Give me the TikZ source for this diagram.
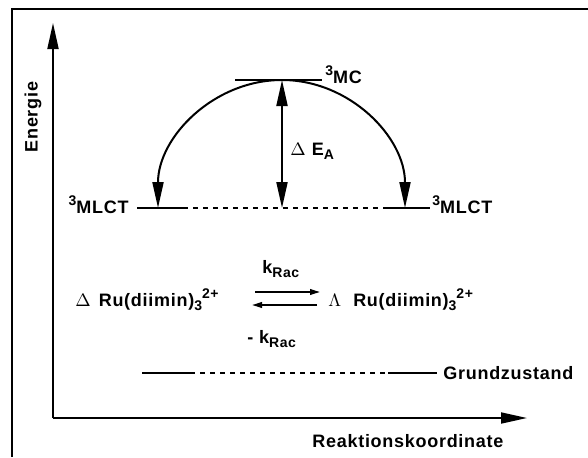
\documentclass[tikz,border=0pt]{standalone}
\usepackage{fontspec}
\setmainfont{Liberation Sans}[LetterSpace=4]
\usepackage{tikz}
\usetikzlibrary{arrows.meta}

% small raised / lowered text
\newcommand{\lsup}[1]{\raisebox{0.75ex}{\fontsize{7}{8}\selectfont #1}}
\newcommand{\lsub}[1]{\raisebox{-0.45ex}{\fontsize{7}{8}\selectfont #1}}
\newcommand{\grk}[1]{{\fontsize{9}{10}\selectfont$#1$}}

\tikzset{
  lvl/.style={line width=1.2pt},
  lvldash/.style={line width=0.9pt, dash pattern=on 2.5pt off 2.5pt},
  longtip/.style={-{Triangle[length=13pt,width=5.5pt]}},
  shorttip/.style={-{Triangle[length=5pt,width=2.8pt]}},
  lbl/.style={font=\bfseries\fontsize{9}{11}\selectfont, inner sep=0pt},
}

\begin{document}
\begin{tikzpicture}[x=0.5pt, y=0.5pt]
    \useasboundingbox (0,0) rectangle (588,457);
    % frame
    \draw[line width=1.2pt] (12,0) -- (12,448) -- (588,448);

    % axes
    \coordinate (origin) at (53,39);
    \coordinate (ytip) at (53,434);
    \coordinate (xtip) at (527,39);
    \draw[line width=0.9pt, longtip] (origin) -- (ytip);
    \draw[line width=0.9pt, longtip] (origin) -- (xtip);
    \node[lbl, rotate=90] (energie) at (33,340) {Energie};
    \node[lbl, anchor=base west] (reakt) at (312,10) {Reaktionskoordinate};

    % 3MC level
    \coordinate (mcA) at (235,377);
    \coordinate (mcB) at (322,377);
    \coordinate (top) at (282,377);
    \draw[lvl] (mcA) -- (mcB);
    \node[lbl, anchor=base west] (mc) at (325,374) {\lsup{3}MC};

    % 3MLCT level
    \coordinate (mlA) at (137,249);
    \coordinate (mlB) at (183,249);
    \coordinate (mlC) at (383,249);
    \coordinate (mlD) at (430,249);
    \coordinate (mlmid) at (282,249);
    \draw[lvl] (mlA) -- (mlB);
    \draw[lvldash] (mlB) -- (mlC);
    \draw[lvl] (mlC) -- (mlD);
    \node[lbl, anchor=base east] (mlleft) at (129,244) {\lsup{3}MLCT};
    \node[lbl, anchor=base west] (mlright) at (432,244) {\lsup{3}MLCT};

    % arcs and activation energy
    \draw[line width=1pt, longtip] (top) arc[start angle=90, end angle=180, x radius=124, y radius=128];
    \draw[line width=1pt, longtip] (top) arc[start angle=90, end angle=0, x radius=123, y radius=128];
    \draw[line width=1pt, {Triangle[length=13pt,width=5.5pt]}-{Triangle[length=13pt,width=5.5pt]}] (top) -- (mlmid);
    \node[lbl, anchor=base west] (dea) at (290,302) {\grk{\Delta}\hspace{3pt}E\lsub{A}};

    % racemisation
    \node[lbl, anchor=base west] (delta) at (75,151) {\grk{\Delta}\hspace{4pt}Ru(diimin)\lsub{3}\lsup{2+}};
    \node[lbl, anchor=base west] (lambda) at (328,151) {\grk{\Lambda}\hspace{6pt}Ru(diimin)\lsub{3}\lsup{2+}};
    \coordinate (fwdA) at (255,165);
    \coordinate (fwdB) at (320,165);
    \coordinate (bwdA) at (317,152);
    \coordinate (bwdB) at (252,152);
    \draw[line width=0.9pt, shorttip] (fwdA) -- (fwdB);
    \draw[line width=0.9pt, shorttip] (bwdA) -- (bwdB);
    \node[lbl, anchor=base west] (kfwd) at (262,184) {k\lsub{Rac}};
    \node[lbl, anchor=base west] (kbwd) at (247,114) {- k\lsub{Rac}};

    % ground state
    \coordinate (gA) at (142,84);
    \coordinate (gB) at (190,84);
    \coordinate (gC) at (388,84);
    \coordinate (gD) at (437,84);
    \draw[lvl] (gA) -- (gB);
    \draw[lvldash] (gB) -- (gC);
    \draw[lvl] (gC) -- (gD);
    \node[lbl, anchor=base west] (grund) at (443,78) {Grundzustand};
\end{tikzpicture}
\end{document}
